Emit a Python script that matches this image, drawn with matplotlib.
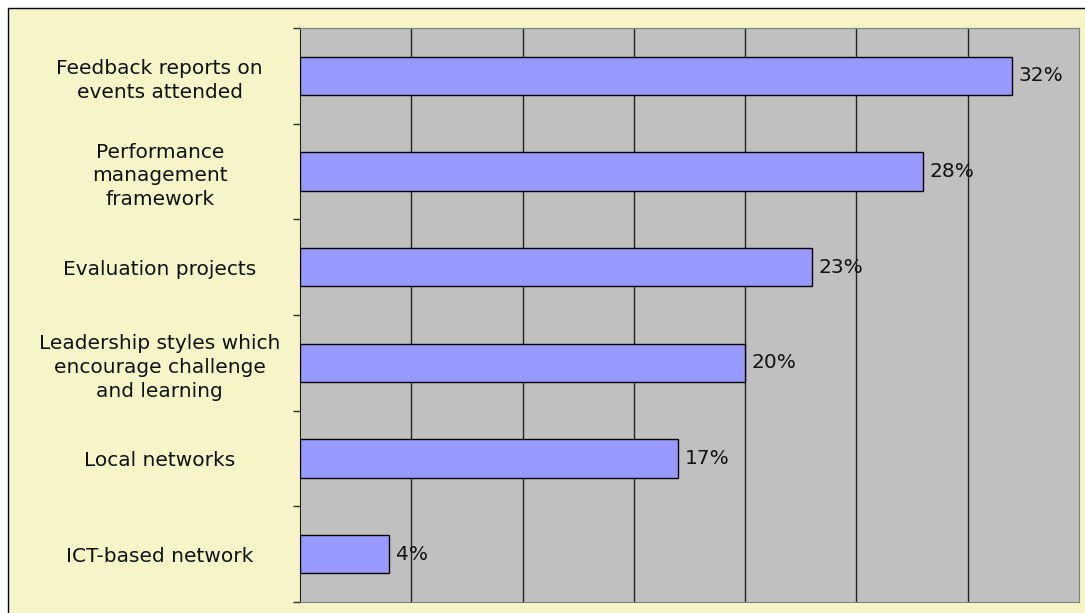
import matplotlib.pyplot as plt
from matplotlib.patches import Rectangle

# Survey results: share of respondents per source of learning
categories = [
    'Feedback reports on\nevents attended',
    'Performance\nmanagement\nframework',
    'Evaluation projects',
    'Leadership styles which\nencourage challenge\nand learning',
    'Local networks',
    'ICT-based network',
]
values = [32, 28, 23, 20, 17, 4]

W, H = 1085, 613
fig = plt.figure(figsize=(W / 100, H / 100), dpi=100, facecolor='white')

# pale yellow chart area with a thin black frame
fig.patches.append(Rectangle((8 / W, -0.1), 1.2, 1 - 8 / H + 0.1,
                             transform=fig.transFigure, facecolor='#F5F5C8',
                             edgecolor='black', linewidth=1.0, zorder=-1))

ax = fig.add_axes([300 / W, 1 - 602 / H, 779 / W, 574 / H])
ax.set_facecolor('#C0C0C0')

pos = list(range(len(categories)))
ax.barh(pos, values, height=0.4, color='#9999FF', edgecolor='black',
        linewidth=1.0, zorder=3)
for p, v in zip(pos, values):
    ax.text(v + 0.3, p, f'{v}%', va='center', ha='left', fontsize=14.5,
            color='#111111', zorder=4)

ax.set_xlim(0, 35)
ax.set_ylim(len(categories) - 0.5, -0.5)

# vertical gridlines every 5%
ax.set_xticks(range(5, 35, 5))
ax.xaxis.grid(True, color='#222222', linewidth=1.0, zorder=1)
ax.tick_params(axis='x', length=0, labelbottom=False)

# ticks at category boundaries, labels at centres
ax.set_yticks([p - 0.5 for p in pos] + [len(pos) - 0.5])
ax.set_yticklabels([])
ax.tick_params(axis='y', which='major', length=5, width=1, color='#333333')
ax.set_yticks(pos, minor=True)
ax.set_yticklabels(categories, minor=True, fontsize=14.5, color='#111111',
                   ha='center', linespacing=1.32)
ax.tick_params(axis='y', which='minor', length=0, pad=101)

for side in ['top', 'right', 'bottom']:
    ax.spines[side].set_color('#808080')
ax.spines['left'].set_color('#222222')

fig.savefig('out.png', dpi=100, facecolor='white')
